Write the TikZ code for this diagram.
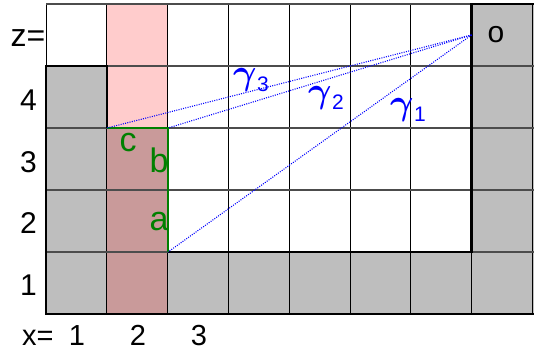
\RequirePackage{fix-cm}
\documentclass[tikz,border=0pt]{standalone}
\usepackage{fontspec}
\setmainfont{Liberation Sans}
\definecolor{cellgray}{HTML}{BEBEBE}
\definecolor{lightpink}{HTML}{FFCCCC}
\definecolor{darkpink}{HTML}{C99A9A}
\definecolor{wallgreen}{HTML}{008000}
\tikzset{
  gridv/.style={black, line width=0.9pt},
  gridh/.style={black!70, line width=1.2pt},
  wall/.style={black, line width=2.8pt, line join=miter},
  edge/.style={wallgreen, line width=2.8pt, line join=miter},
  ray/.style={blue, line width=1.1pt, dash pattern=on 1pt off 1.3pt},
  lbl/.style={inner sep=0pt, anchor=base},
  grn/.style={lbl, text=wallgreen, font=\fontsize{34}{34}\selectfont},
  gam/.style={inner sep=0pt, anchor=base west, text=blue}
}
\newcommand{\gamlab}[1]{{\fontsize{36}{36}\selectfont\boldmath$\gamma$}\kern0.5pt\raisebox{-7pt}{\fontsize{21}{21}\selectfont #1}}
\begin{document}
\begin{tikzpicture}[x=1pt,y=-1pt]
\useasboundingbox (0,0) rectangle (534,351);
% fills
\fill[cellgray] (46,66) rectangle (107,314);
\fill[cellgray] (46,252) rectangle (534,314);
\fill[cellgray] (471.5,4) rectangle (534,314);
\fill[lightpink] (107,4) rectangle (168,128);
\fill[darkpink] (107,128) rectangle (168,314);
% grid
\foreach \i in {0,...,8} {
  \draw[gridv] ({46+60.8*\i},4) -- ({46+60.8*\i},314);
}
\foreach \j in {0,...,5} {
  \draw[gridh] (46,{4+62*\j}) -- (534,{4+62*\j});
}
% coordinates
\coordinate (o) at (471.5,35);
\coordinate (c) at (107,128);
\coordinate (b) at (168,128);
\coordinate (a) at (168,252);
% walls
\draw[wall] (c) -- (107,66) -- (46,66) -- (46,314) -- (536,314);
\draw[wall] (a) -- (471.5,252) -- (471.5,4) -- (536,4);
\draw[edge] (c) -- (b) -- (a);
% rays
\draw[ray] (o) -- (c);
\draw[ray] (o) -- (b);
\draw[ray] (o) -- (a);
% labels
\node[inner sep=0pt, anchor=base east, font=\fontsize{32}{32}\selectfont] (zl) at (45.5,46.7) {z=};
\node[lbl, font=\fontsize{30}{30}\selectfont] (r4) at (28.5,110) {4};
\node[lbl, font=\fontsize{30}{30}\selectfont] (r3) at (28.5,172) {3};
\node[lbl, font=\fontsize{30}{30}\selectfont] (r2) at (28.5,233) {2};
\node[lbl, font=\fontsize{30}{30}\selectfont] (r1) at (28.5,295) {1};
\node[inner sep=0pt, anchor=base west, font=\fontsize{29}{29}\selectfont] (xl) at (22,345) {x=};
\node[lbl, font=\fontsize{29}{29}\selectfont] (c1) at (77,345) {1};
\node[lbl, font=\fontsize{29}{29}\selectfont] (c2) at (138,345) {2};
\node[lbl, font=\fontsize{29}{29}\selectfont] (c3) at (199,345) {3};
\node[lbl, font=\fontsize{30}{30}\selectfont] (ol) at (496,42) {o};
\node[grn] (cl) at (128,151) {c};
\node[grn] (bl) at (159,172) {b};
\node[grn] (al) at (159,230) {a};
\node[gam] (g3) at (233,84.7) {\gamlab{3}};
\node[gam] (g2) at (308,102.7) {\gamlab{2}};
\node[gam] (g1) at (390,114.7) {\gamlab{1}};
\end{tikzpicture}
\end{document}
